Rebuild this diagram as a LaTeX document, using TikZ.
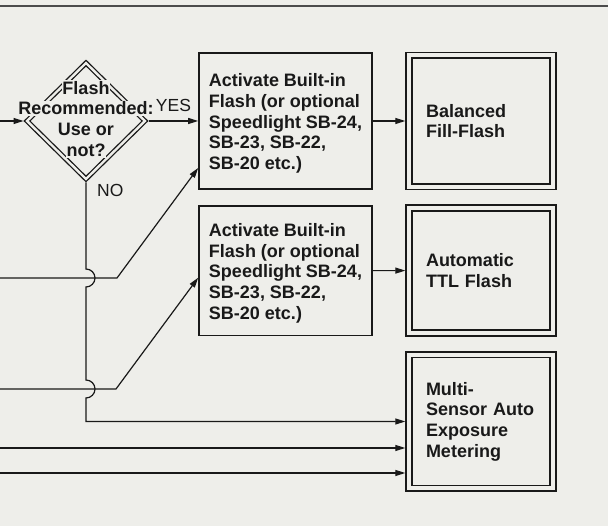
\documentclass[tikz,border=0pt]{standalone}
\usepackage{fontspec}
\setmainfont{Liberation Sans}
\usepackage{xcolor}
\definecolor{paper}{RGB}{238,238,234}
\definecolor{ink}{RGB}{25,25,25}
\usepackage{tikz}
\usetikzlibrary{
  arrows.meta,
  positioning,
  calc,
  shapes.geometric
}
\newcommand{\dcut}[1]{{\setlength{\fboxsep}{0.6pt}\colorbox{paper}{#1}}}
\tikzset{
  actbox/.style={
    draw=ink,
    line width=1.7pt,
    align=left,
    text=ink,
    font=\bfseries\fontsize{18}{20.7}\selectfont,
    minimum width=173pt,
    text height=101pt,
    inner sep=0pt
  },
  resbox/.style={
    draw=ink,
    line width=1.7pt,
    double=paper,
    double distance=4pt,
    text width=110pt,
    align=left,
    text=ink,
    font=\bfseries\fontsize{18}{20.7}\selectfont,
    minimum width=144pt,
    inner xsep=17pt,
    inner ysep=0pt,
    outer sep=3.7pt
  },
  decision/.style={
    diamond,
    draw=ink,
    line width=1.3pt,
    double=paper,
    double distance=2.4pt,
    minimum width=120pt,
    minimum height=118pt,
    inner sep=0pt,
    outer sep=2.5pt
  },
  dectext/.style={
    align=center,
    text=ink,
    font=\bfseries\fontsize{18}{20.9}\selectfont,
    inner sep=0pt
  },
  flowarrow/.style={
    -{Triangle[length=10pt,width=6pt]},
    line width=1.2pt,
    draw=ink
  },
  flowlabel/.style={font=\fontsize{17.5}{20}\selectfont, text=ink, inner sep=0pt}
}

\begin{document}
\begin{tikzpicture}[x=1pt, y=1pt]
  \useasboundingbox[fill=paper] (0,0) rectangle (608,526);
  \draw[black!70, line width=1.5pt] (0,520) -- (608,520);

  % Decision
  \node[decision] (dec) at (86,405) {};
  \node[dectext, yshift=2pt] (dectxt) at (dec)
    {\dcut{Flash}\\\dcut{Recommended:}\\\dcut{Use or}\\\dcut{not?}};

  % Flash boxes
  \node[actbox, minimum height=136pt] (act1) at (285.5,405)
    {Activate Built-in\\Flash (or optional\\Speedlight SB-24,\\SB-23, SB-22,\\SB-20 etc.)};
  \node[actbox, minimum height=129.5pt] (act2) at (285.5,255.25)
    {Activate Built-in\\Flash (or optional\\Speedlight SB-24,\\SB-23, SB-22,\\SB-20 etc.)};

  % Results
  \node[resbox, minimum height=131.5pt] (bfill) at (481,405) {Balanced\\Fill-Flash};
  \node[resbox, minimum height=125pt] (ttl) at (481,255.5) {Automatic\\TTL Flash};
  \node[resbox, minimum height=133.7pt] (meter) at (481,104.5)
    {Multi-\\Sensor Auto\\Exposure\\Metering};

  % Inputs from the left
  \coordinate (src0) at (0,405);
  \coordinate (src1) at (0,248);
  \coordinate (src2) at (0,137);
  \coordinate (src3) at (0,78);
  \coordinate (src4) at (0,53);

  \draw[flowarrow] (src0) -- (dec.west);
  \draw[flowarrow] (dec.east) -- (act1.west);
  \node[flowlabel, anchor=base] (yes) at (173.5,414) {YES};
  \draw[flowarrow] (act1) -- (bfill);
  \draw[flowarrow] (act2) -- (ttl);

  % NO branch, hopping over the inputs
  \draw[flowarrow] (dec.south) -- (86,257) arc[start angle=90, end angle=-90, radius=9pt]
    -- (86,146) arc[start angle=90, end angle=-90, radius=9pt]
    -- (dec.south |- meter.west) -- (meter.west);
  \node[flowlabel, anchor=base west] (no) at (97,329.3) {NO};

  \draw[flowarrow] (src1) -- (117,248) -- ([yshift=-47pt]act1.west);
  \draw[flowarrow] (src2) -- (116,137) -- ([yshift=-7pt]act2.west);
  \foreach \s in {src3,src4}
    \draw[flowarrow] (\s) -- (\s -| meter.west);
\end{tikzpicture}
\end{document}
